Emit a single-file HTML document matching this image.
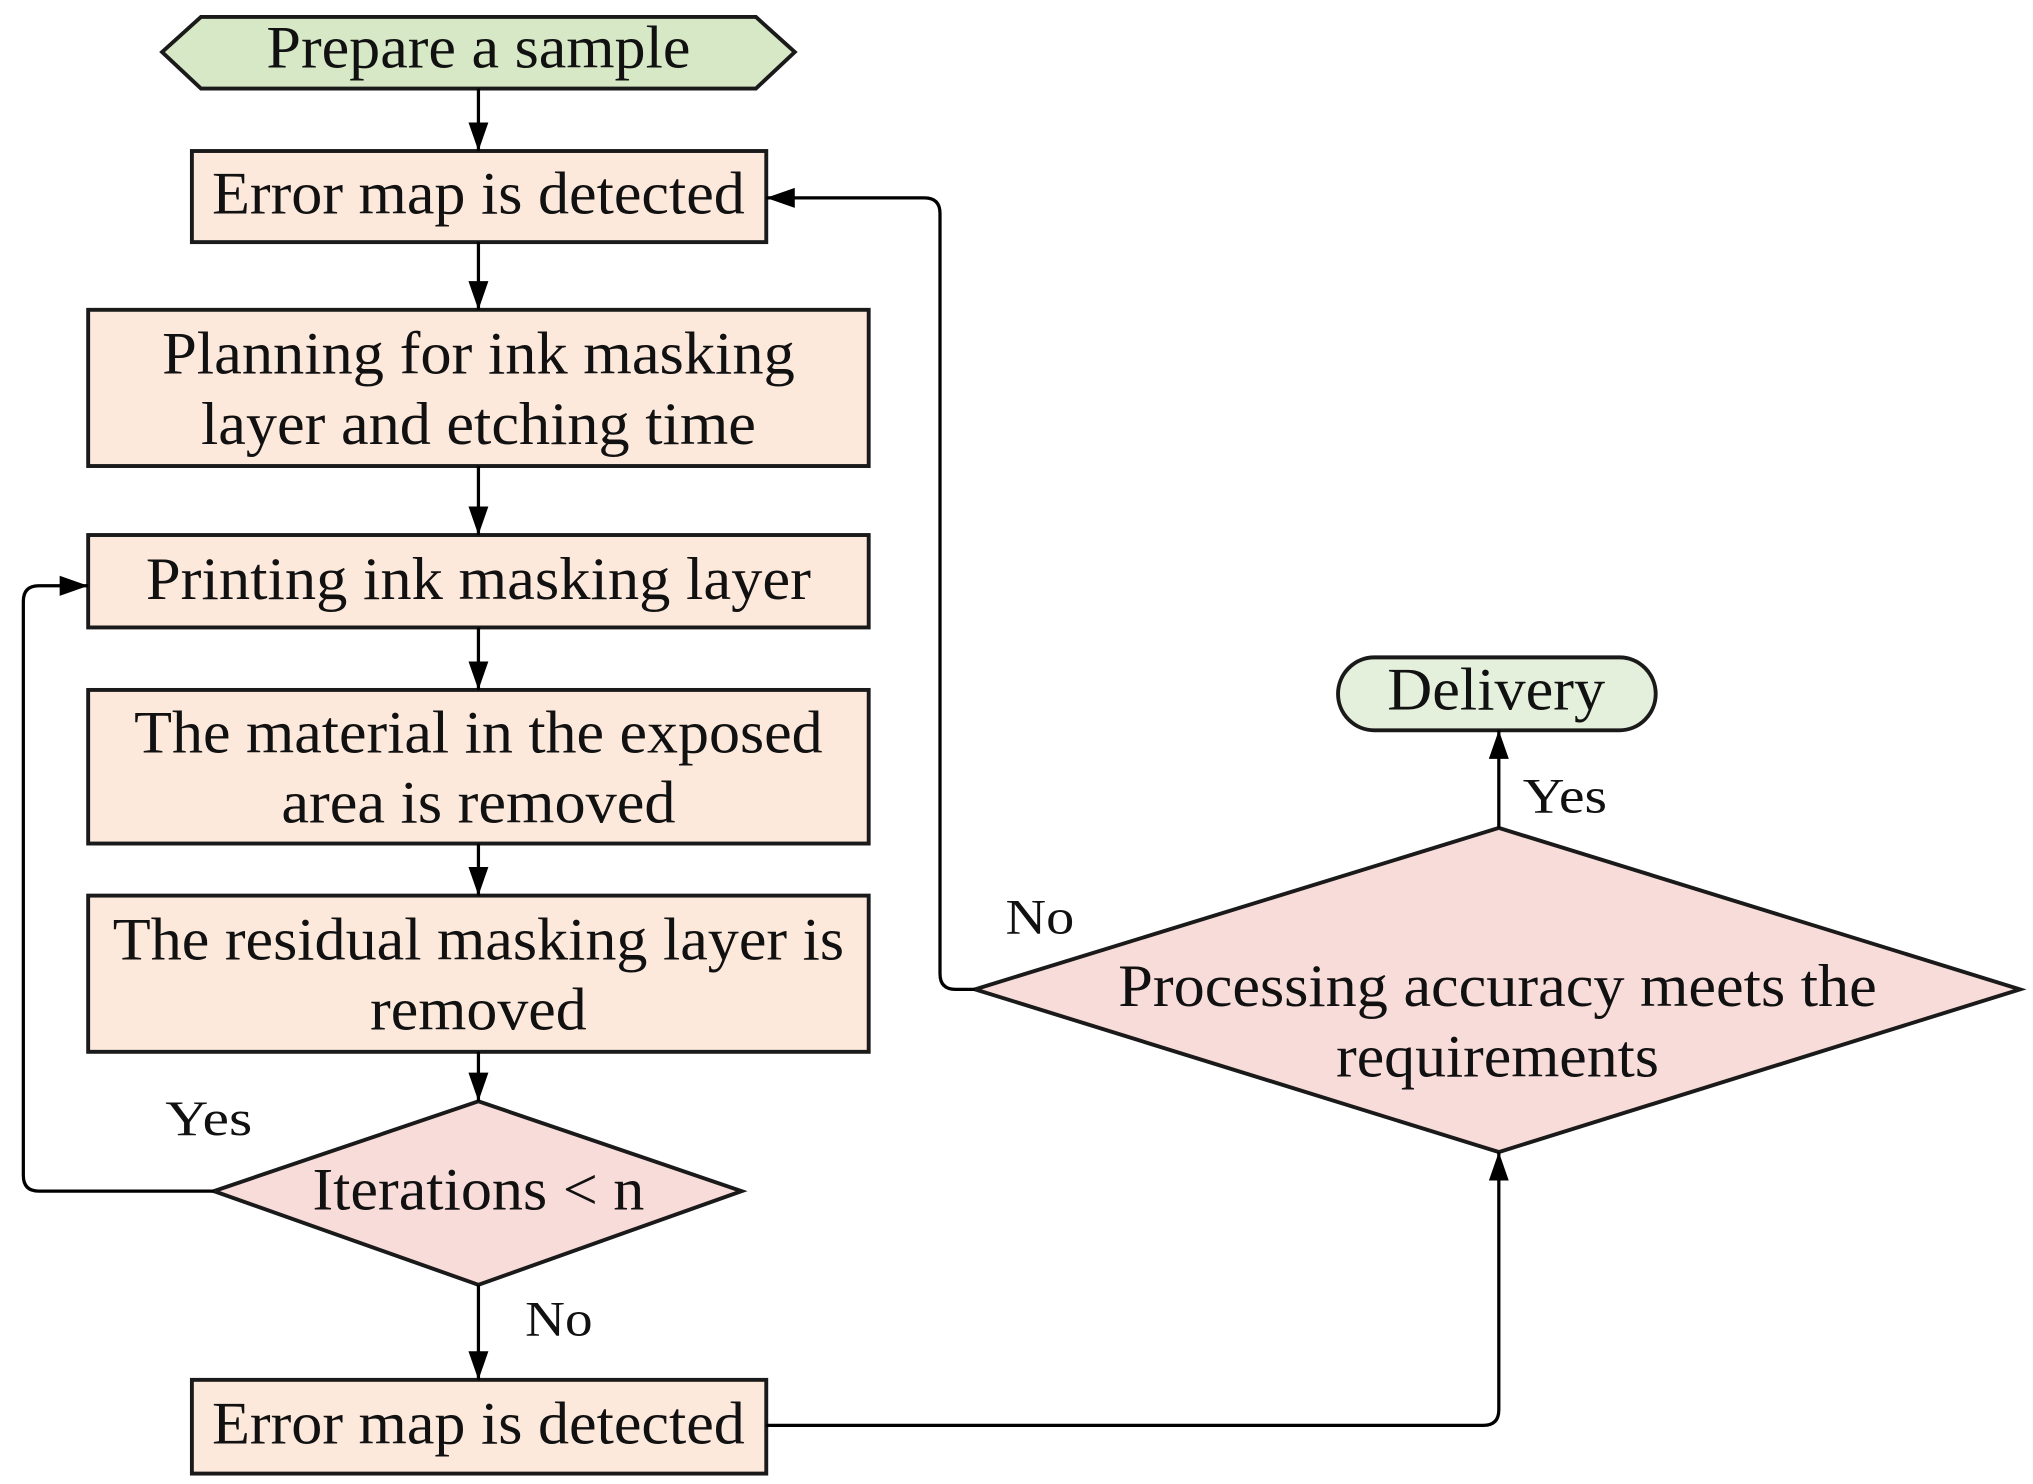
<!DOCTYPE html>
<html><head><meta charset="utf-8"><style>html,body{margin:0;padding:0;background:#fff}svg{display:block}</style></head>
<body>
<svg width="2033" height="1484" viewBox="0 0 1568 1140" preserveAspectRatio="none" xmlns="http://www.w3.org/2000/svg">
<defs>
<marker id="b" viewBox="0 0 10 10" refX="10" refY="5" markerWidth="22" markerHeight="22" markerUnits="userSpaceOnUse" orient="auto"><path d="M0,1.5 L10,5 L0,8.5 z" fill="#000"/></marker></defs>
<g stroke="#1a1a1a" stroke-width="3">
<polygon points="125,40 155,13 583,13 613,40 583,68 155,68" fill="#d6e8c6"/>
<rect x="148" y="116" width="443" height="70" fill="#fde9dc"/>
<rect x="68" y="238" width="602" height="120" fill="#fde9dc"/>
<rect x="68" y="411" width="602" height="71" fill="#fde9dc"/>
<rect x="68" y="530" width="602" height="118" fill="#fde9dc"/>
<rect x="68" y="688" width="602" height="120" fill="#fde9dc"/>
<polygon points="165,915 369,846 572,915 369,987" fill="#f8dcd9"/>
<rect x="148" y="1060" width="443" height="72" fill="#fde9dc"/>
<polygon points="752,760 1156,636 1558,760 1156,885" fill="#f8dcd9"/>
<rect x="1032" y="505" width="245" height="56" rx="28" fill="#e4f0dc"/>
</g>
<g stroke="#000" stroke-width="2.5" fill="none" marker-end="url(#b)">
<line x1="369" y1="68" x2="369" y2="116"/>
<line x1="369" y1="186" x2="369" y2="238"/>
<line x1="369" y1="358" x2="369" y2="411"/>
<line x1="369" y1="482" x2="369" y2="530"/>
<line x1="369" y1="648" x2="369" y2="688"/>
<line x1="369" y1="808" x2="369" y2="846"/>
<line x1="369" y1="987" x2="369" y2="1060"/>
<path d="M165,915 H30 Q18,915 18,903 V462 Q18,450 30,450 H68"/>
<path d="M752,760 H737 Q725,760 725,748 V164 Q725,152 713,152 H591"/>
<path d="M591,1095 H1144 Q1156,1095 1156,1083 V885"/>
<line x1="1156" y1="636" x2="1156" y2="561"/>
</g>
<g font-family="'Liberation Serif', serif" font-size="46" fill="#111" text-anchor="middle" lengthAdjust="spacingAndGlyphs">
<text x="369" y="52" textLength="327" lengthAdjust="spacingAndGlyphs">Prepare a sample</text>
<text x="369" y="164" textLength="411" lengthAdjust="spacingAndGlyphs">Error map is detected</text>
<text x="369" y="287" textLength="488" lengthAdjust="spacingAndGlyphs">Planning for ink masking</text>
<text x="369" y="341" textLength="428" lengthAdjust="spacingAndGlyphs">layer and etching time</text>
<text x="369" y="460" textLength="513" lengthAdjust="spacingAndGlyphs">Printing ink masking layer</text>
<text x="369" y="578" textLength="531" lengthAdjust="spacingAndGlyphs">The material in the exposed</text>
<text x="369" y="632" textLength="304" lengthAdjust="spacingAndGlyphs">area is removed</text>
<text x="369" y="737" textLength="564" lengthAdjust="spacingAndGlyphs">The residual masking layer is</text>
<text x="369" y="791" textLength="167" lengthAdjust="spacingAndGlyphs">removed</text>
<text x="369" y="929" textLength="256" lengthAdjust="spacingAndGlyphs">Iterations &lt; n</text>
<text x="369" y="1109" textLength="411" lengthAdjust="spacingAndGlyphs">Error map is detected</text>
<text x="1155" y="773" textLength="585" lengthAdjust="spacingAndGlyphs">Processing accuracy meets the</text>
<text x="1155" y="827" textLength="249" lengthAdjust="spacingAndGlyphs">requirements</text>
<text x="1154" y="545" textLength="168" lengthAdjust="spacingAndGlyphs">Delivery</text>
<g font-size="38">
<text x="161" y="872" textLength="67" lengthAdjust="spacingAndGlyphs">Yes</text>
<text x="431" y="1026" textLength="52" lengthAdjust="spacingAndGlyphs">No</text>
<text x="802" y="717" textLength="53" lengthAdjust="spacingAndGlyphs">No</text>
<text x="1207" y="624" textLength="65" lengthAdjust="spacingAndGlyphs">Yes</text>
</g>
</g>
</svg>
</body></html>
